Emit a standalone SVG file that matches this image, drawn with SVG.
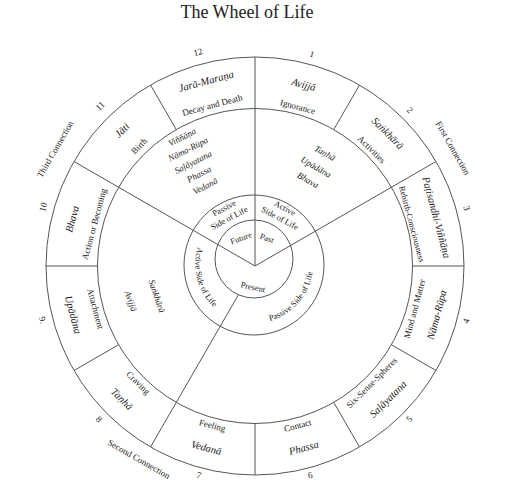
<svg xmlns="http://www.w3.org/2000/svg" width="506" height="480" viewBox="0 0 506 480">
<style>
.ln{stroke:#555;stroke-width:1;fill:none}
text{font-family:"Liberation Serif","Times New Roman",serif;fill:#222;text-anchor:middle}
.pali{font-style:italic;font-size:10.5px}
.eng{font-size:9px}
.num{font-size:9px}
.con{font-size:9px}
.mid{font-style:italic;font-size:9px}
.ring{font-size:8.5px}
.title{font-size:18px}
</style>
<defs>
<path id="arcLeft" d="M 203.0 235.0 A 59 59 0 0 0 224.5 315.1"/>
<path id="arcRight" d="M 258.1 322.9 A 59 59 0 0 0 312.9 259.9"/>
</defs>
<rect width="506" height="480" fill="#fff"/>
<text class="title" x="247" y="18">The Wheel of Life</text>

<g id="connectors">
<circle class="ln" cx="255" cy="266" r="209"/>
<circle class="ln" cx="255" cy="266" r="157.5"/>
<circle class="ln" cx="254" cy="265" r="70"/>
<circle class="ln" cx="254" cy="259" r="39"/>
<line class="ln" x1="255" y1="266" x2="255" y2="57"/>
<line class="ln" x1="255" y1="266" x2="436" y2="161.5"/>
<line class="ln" x1="255" y1="266" x2="74" y2="161.5"/>
<line class="ln" x1="238.4" y1="294.8" x2="150.5" y2="447"/>
<line class="ln" x1="333.75" y1="129.6" x2="359.5" y2="85"/>
<line class="ln" x1="412.5" y1="266" x2="464" y2="266"/>
<line class="ln" x1="391.4" y1="344.75" x2="436" y2="370.5"/>
<line class="ln" x1="333.75" y1="402.4" x2="359.5" y2="447"/>
<line class="ln" x1="255" y1="423.5" x2="255" y2="475"/>
<line class="ln" x1="118.6" y1="344.75" x2="74" y2="370.5"/>
<line class="ln" x1="97.5" y1="266" x2="46" y2="266"/>
<line class="ln" x1="176.25" y1="129.6" x2="150.5" y2="85"/>
</g>

<g id="seg1">
<text class="pali" dy="0.35em" transform="translate(303.7 84.4) rotate(15)">Avijjā</text>
<text class="eng" dy="0.35em" transform="translate(297.7 106.6) rotate(15)">Ignorance</text>
<text class="num" dy="0.35em" transform="translate(312 54) rotate(15)">1</text>
</g>
<g id="seg2">
<text class="pali" dy="0.35em" transform="translate(387.9 133.1) rotate(45)">Saṅkhārā</text>
<text class="eng" dy="0.35em" transform="translate(371.7 149.3) rotate(45)">Activities</text>
<text class="num" dy="0.35em" transform="translate(410 110) rotate(45)">2</text>
</g>
<g id="seg3">
<text class="pali" dy="0.35em" transform="translate(436.6 217.3) rotate(75)">Paṭisandhi-Viññāṇa</text>
<text class="eng" dy="0.35em" style="font-size:8.5px" transform="translate(412 224) rotate(75)">Rebirth-Consciousness</text>
<text class="num" dy="0.35em" transform="translate(467 208) rotate(75)">3</text>
</g>
<g id="seg4">
<text class="pali" dy="0.35em" transform="translate(436.6 314.7) rotate(-75)">Nāma-Rūpa</text>
<text class="eng" dy="0.35em" transform="translate(414.4 308.7) rotate(-75)">Mind and Matter</text>
<text class="num" dy="0.35em" transform="translate(466 321) rotate(-75)">4</text>
</g>
<g id="seg5">
<text class="pali" dy="0.35em" transform="translate(387.9 398.9) rotate(-45)">Saḷāyatana</text>
<text class="eng" dy="0.35em" transform="translate(371.7 382.7) rotate(-45)">Six-Sense-Spheres</text>
<text class="num" dy="0.35em" transform="translate(409 419) rotate(-45)">5</text>
</g>
<g id="seg6">
<text class="pali" dy="0.35em" transform="translate(303.7 447.6) rotate(-15)">Phassa</text>
<text class="eng" dy="0.35em" transform="translate(297.7 425.4) rotate(-15)">Contact</text>
<text class="num" dy="0.35em" transform="translate(310 475) rotate(-15)">6</text>
</g>
<g id="seg7">
<text class="pali" dy="0.35em" transform="translate(206.3 447.6) rotate(15)">Vedanā</text>
<text class="eng" dy="0.35em" transform="translate(212.3 425.4) rotate(15)">Feeling</text>
<text class="num" dy="0.35em" transform="translate(199 475) rotate(15)">7</text>
</g>
<g id="seg8">
<text class="pali" dy="0.35em" transform="translate(122.1 398.9) rotate(45)">Taṇhā</text>
<text class="eng" dy="0.35em" transform="translate(138.3 382.7) rotate(45)">Craving</text>
<text class="num" dy="0.35em" transform="translate(99 419) rotate(45)">8</text>
</g>
<g id="seg9">
<text class="pali" dy="0.35em" transform="translate(73.4 314.7) rotate(75)">Upādāna</text>
<text class="eng" dy="0.35em" transform="translate(95.6 308.7) rotate(75)">Attachment</text>
<text class="num" dy="0.35em" transform="translate(43 320) rotate(75)">9.</text>
</g>
<g id="seg10">
<text class="pali" dy="0.35em" transform="translate(72 219) rotate(-75)">Bhava</text>
<text class="eng" dy="0.35em" transform="translate(94 224) rotate(-75)">Action or Becoming</text>
<text class="num" dy="0.35em" transform="translate(43 207) rotate(-75)">10</text>
</g>
<g id="seg11">
<text class="pali" dy="0.35em" transform="translate(122 130) rotate(-45)">Jāti</text>
<text class="eng" dy="0.35em" transform="translate(139 146) rotate(-45)">Birth</text>
<text class="num" dy="0.35em" transform="translate(100 106) rotate(-45)">11</text>
</g>
<g id="seg12">
<text class="pali" dy="0.35em" transform="translate(206 81) rotate(-15)">Jarā-Maraṇa</text>
<text class="eng" dy="0.35em" transform="translate(212.3 105) rotate(-15)">Decay and Death</text>
<text class="num" dy="0.35em" transform="translate(198 52) rotate(-15)">12</text>
</g>

<g id="connections">
<text class="con" dy="0.35em" transform="translate(453 148) rotate(60)">First Connection</text>
<text class="con" dy="0.35em" transform="translate(139 459) rotate(30)">Second Connection</text>
<text class="con" dy="0.35em" transform="translate(55 149) rotate(-60)">Third Connection</text>
</g>

<g id="present-effects">
<text class="mid" dy="0.35em" transform="translate(182 137) rotate(-27)">Viññāṇa</text>
<text class="mid" dy="0.35em" transform="translate(188 149) rotate(-27)">Nāma-Rūpa</text>
<text class="mid" dy="0.35em" transform="translate(193 162) rotate(-27)">Saḷāyatana</text>
<text class="mid" dy="0.35em" transform="translate(199 174) rotate(-27)">Phassa</text>
<text class="mid" dy="0.35em" transform="translate(205 186) rotate(-27)">Vedanā</text>
</g>
<g id="present-causes">
<text class="mid" dy="0.35em" transform="translate(325 153) rotate(30)">Taṇhā</text>
<text class="mid" dy="0.35em" transform="translate(316 167) rotate(30)">Upādāna</text>
<text class="mid" dy="0.35em" transform="translate(308 180) rotate(30)">Bhava</text>
</g>
<g id="past-causes">
<text class="mid" dy="0.35em" transform="translate(157 296) rotate(71)">Saṅkhārā</text>
<text class="mid" dy="0.35em" transform="translate(131 301) rotate(71)">Avijjā</text>
</g>

<g id="ring-passive-top">
<text class="ring" dy="0.35em" transform="translate(224 208) rotate(-28)">Passive</text>
<text class="ring" dy="0.35em" transform="translate(229 218) rotate(-28)">Side of Life</text>
</g>
<g id="ring-active-top">
<text class="ring" dy="0.35em" transform="translate(285 208) rotate(28)">Active</text>
<text class="ring" dy="0.35em" transform="translate(280 218) rotate(28)">Side of Life</text>
</g>
<g id="ring-active-left">
<text class="ring"><textPath href="#arcLeft" startOffset="50%">Active Side of Life</textPath></text>
</g>
<g id="ring-passive-right">
<text class="ring"><textPath href="#arcRight" startOffset="50%">Passive Side of Life</textPath></text>
</g>

<g id="future"><text class="ring" dy="0.35em" transform="translate(241 238) rotate(-20)">Future</text></g>
<g id="past"><text class="ring" dy="0.35em" transform="translate(267 238) rotate(20)">Past</text></g>
<g id="present"><text class="ring" dy="0.35em" transform="translate(253 287) rotate(12)">Present</text></g>
</svg>
